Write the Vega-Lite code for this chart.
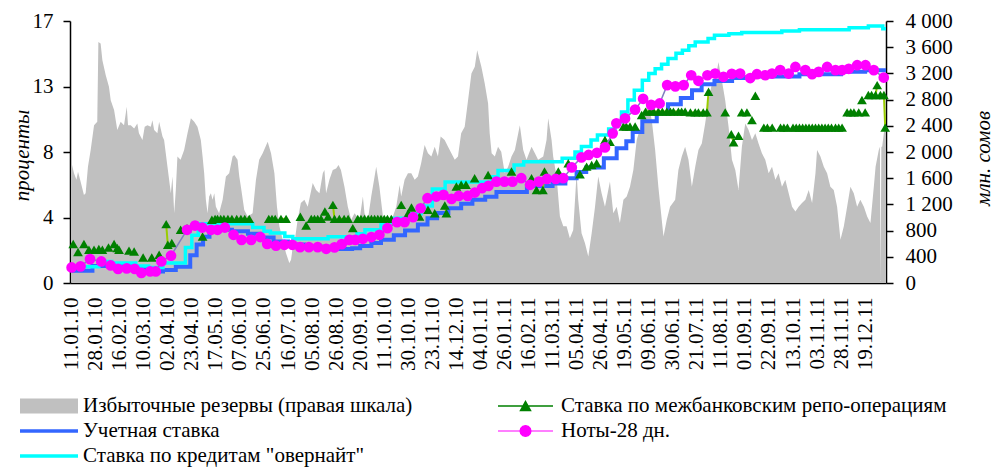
{
  "$schema": "https://vega.github.io/schema/vega-lite/v6.json",
  "width": 816,
  "height": 262,
  "autosize": {"type": "none"},
  "padding": {"left": 70, "top": 21, "right": 109, "bottom": 185},
  "background": "white",
  "config": {
    "view": {"stroke": null},
    "font": "Liberation Serif, Times New Roman, Tinos, DejaVu Serif, serif",
    "axis": {"labelFont": "Liberation Serif, Times New Roman, Tinos, DejaVu Serif, serif", "titleFont": "Liberation Serif, Times New Roman, Tinos, DejaVu Serif, serif", "labelColor": "black", "titleColor": "black", "domainColor": "black", "tickColor": "black", "domainWidth": 1.5, "tickWidth": 1.5, "grid": false},
    "legend": {"labelFont": "Liberation Serif, Times New Roman, Tinos, DejaVu Serif, serif"}
  },
  "datasets": {
    "reserves": [
      {"d":0,"r":1830},{"d":1.5,"r":1675},{"d":3,"r":1575},{"d":4,"r":1700},{"d":5.6,"r":1550},{"d":7.7,"r":1345},{"d":8.75,"r":1370},{"d":10.2,"r":1775},{"d":11.9,"r":2030},{"d":14,"r":2410},{"d":16,"r":2460},{"d":16.7,"r":3680},{"d":18.1,"r":3655},{"d":19.2,"r":3400},{"d":21.3,"r":3170},{"d":23.3,"r":2995},{"d":24.4,"r":2790},{"d":26.5,"r":2640},{"d":28.5,"r":2335},{"d":30.6,"r":2460},{"d":32.7,"r":2410},{"d":34.4,"r":2690},{"d":35.2,"r":2410},{"d":36.9,"r":2410},{"d":39,"r":2360},{"d":41,"r":2435},{"d":42,"r":2285},{"d":44.2,"r":2185},{"d":45.6,"r":2385},{"d":47.3,"r":2410},{"d":49.4,"r":2385},{"d":50.4,"r":2485},{"d":51.5,"r":2335},{"d":53.5,"r":2285},{"d":54.6,"r":2460},{"d":56.7,"r":2235},{"d":57.7,"r":2185},{"d":59.8,"r":1775},{"d":61.9,"r":1370},{"d":62.9,"r":1625},{"d":64,"r":1065},{"d":65,"r":1420},{"d":66,"r":1930},{"d":68,"r":1880},{"d":70.2,"r":2030},{"d":72.3,"r":2285},{"d":74.4,"r":2515},{"d":76.5,"r":2460},{"d":78.5,"r":2385},{"d":80.6,"r":2185},{"d":81.7,"r":1930},{"d":82.7,"r":1675},{"d":83.75,"r":1270},{"d":84.8,"r":1065},{"d":85.8,"r":1320},{"d":86.9,"r":1370},{"d":87.9,"r":1270},{"d":89,"r":1370},{"d":90,"r":1165},{"d":92,"r":1065},{"d":94.2,"r":1270},{"d":96.25,"r":1625},{"d":98.3,"r":1675},{"d":100.4,"r":1930},{"d":101.5,"r":1955},{"d":103.5,"r":1880},{"d":104.6,"r":1625},{"d":105.6,"r":1470},{"d":107.7,"r":1115},{"d":109.8,"r":1015},{"d":112.9,"r":1065},{"d":115,"r":1575},{"d":117,"r":1880},{"d":119.2,"r":1980},{"d":122.3,"r":2155},{"d":124.4,"r":1980},{"d":126.5,"r":1675},{"d":128.1,"r":1165},{"d":129.6,"r":865},{"d":131.7,"r":660},{"d":133.75,"r":455},{"d":135.8,"r":305},{"d":136.9,"r":355},{"d":138,"r":560},{"d":139,"r":610},{"d":141,"r":965},{"d":143,"r":1220},{"d":145.2,"r":1270},{"d":147.3,"r":1165},{"d":150.4,"r":1525},{"d":152.5,"r":1420},{"d":154.6,"r":1370},{"d":156.7,"r":1675},{"d":157.7,"r":1725},{"d":158.75,"r":1370},{"d":160.8,"r":1575},{"d":162.9,"r":1725},{"d":165,"r":1750},{"d":166.5,"r":1800},{"d":168,"r":1725},{"d":170.2,"r":1470},{"d":172.3,"r":1165},{"d":174.4,"r":965},{"d":176.5,"r":1065},{"d":179.6,"r":965},{"d":181.7,"r":1320},{"d":182.7,"r":1065},{"d":184.8,"r":965},{"d":186.9,"r":1320},{"d":189,"r":1625},{"d":190,"r":1775},{"d":192,"r":1470},{"d":194.2,"r":1015},{"d":197.3,"r":965},{"d":200.4,"r":1015},{"d":202.5,"r":1165},{"d":204.6,"r":1495},{"d":205.6,"r":1320},{"d":207.7,"r":1575},{"d":209.8,"r":1675},{"d":211.9,"r":1675},{"d":214,"r":1575},{"d":216,"r":1625},{"d":218,"r":1825},{"d":220.2,"r":2105},{"d":222.3,"r":1980},{"d":224.4,"r":1930},{"d":226.5,"r":2080},{"d":228.5,"r":1930},{"d":230.2,"r":2235},{"d":232.7,"r":2185},{"d":234.8,"r":2080},{"d":236.9,"r":1980},{"d":239,"r":1880},{"d":241,"r":1930},{"d":243,"r":2285},{"d":245.2,"r":2385},{"d":247.3,"r":2790},{"d":249.4,"r":3200},{"d":251.5,"r":3300},{"d":253,"r":3555},{"d":255.6,"r":3300},{"d":257.7,"r":3045},{"d":259.8,"r":2740},{"d":260.8,"r":2285},{"d":262,"r":1980},{"d":264,"r":1930},{"d":266,"r":2080},{"d":268,"r":2005},{"d":270.2,"r":1675},{"d":272.3,"r":1775},{"d":274.4,"r":1930},{"d":276.5,"r":2030},{"d":279.6,"r":2410},{"d":281.7,"r":2030},{"d":283.75,"r":1880},{"d":286.9,"r":2080},{"d":289,"r":1980},{"d":291,"r":1880},{"d":294.2,"r":1930},{"d":296.25,"r":2185},{"d":297.3,"r":2515},{"d":299.4,"r":2185},{"d":300.4,"r":1930},{"d":302.5,"r":1625},{"d":304.6,"r":1015},{"d":306.7,"r":865},{"d":308.75,"r":865},{"d":310.8,"r":685},{"d":312.9,"r":810},{"d":315,"r":1675},{"d":316,"r":1270},{"d":318.1,"r":760},{"d":320.2,"r":610},{"d":322.3,"r":405},{"d":324.4,"r":760},{"d":326.5,"r":1165},{"d":328.5,"r":1625},{"d":330.6,"r":1370},{"d":332.7,"r":1165},{"d":335.8,"r":1550},{"d":337.9,"r":1065},{"d":340,"r":1165},{"d":342,"r":915},{"d":344.2,"r":1270},{"d":346.25,"r":1320},{"d":348.3,"r":1470},{"d":350.4,"r":1725},{"d":352.5,"r":2185},{"d":354.6,"r":2360},{"d":357.7,"r":2640},{"d":359.8,"r":2740},{"d":361.9,"r":2485},{"d":364,"r":2030},{"d":366,"r":1470},{"d":369.2,"r":710},{"d":371.25,"r":965},{"d":373.3,"r":1165},{"d":376.5,"r":1270},{"d":378.5,"r":1725},{"d":380.6,"r":1930},{"d":382.7,"r":2080},{"d":384.8,"r":1880},{"d":386.9,"r":1470},{"d":389,"r":1775},{"d":391,"r":2030},{"d":393.1,"r":2130},{"d":395.2,"r":2435},{"d":397.3,"r":2790},{"d":399.4,"r":3045},{"d":401.5,"r":3095},{"d":403.5,"r":3375},{"d":405.6,"r":3095},{"d":407.7,"r":2790},{"d":409.8,"r":2385},{"d":411.9,"r":1880},{"d":414,"r":1725},{"d":416,"r":1420},{"d":418.1,"r":2080},{"d":420.2,"r":2435},{"d":422.3,"r":2335},{"d":424.4,"r":2185},{"d":426.5,"r":2285},{"d":428.5,"r":2130},{"d":430.6,"r":1980},{"d":432.7,"r":1880},{"d":434.8,"r":1675},{"d":436.9,"r":1775},{"d":439,"r":1575},{"d":441,"r":1675},{"d":443.1,"r":1470},{"d":445.2,"r":1575},{"d":447.3,"r":1370},{"d":449.4,"r":1165},{"d":451.5,"r":1090},{"d":453.5,"r":1165},{"d":455.6,"r":1220},{"d":457.7,"r":1270},{"d":459.8,"r":1420},{"d":461.9,"r":1220},{"d":464,"r":1675},{"d":465,"r":2030},{"d":467.1,"r":1930},{"d":469.2,"r":1775},{"d":471.25,"r":1675},{"d":473.3,"r":1470},{"d":475.4,"r":1420},{"d":477.5,"r":1165},{"d":479.6,"r":660},{"d":481.7,"r":865},{"d":483.75,"r":1165},{"d":485.8,"r":1470},{"d":487.9,"r":1370},{"d":490,"r":1165},{"d":492,"r":1270},{"d":494.2,"r":1165},{"d":496.25,"r":1015},{"d":498.3,"r":915},{"d":500.4,"r":1470},{"d":501.5,"r":1775},{"d":503.5,"r":2030},{"d":504.2,"r":2080},{"d":504.6,"r":30},{"d":505.1,"r":2080},{"d":505.6,"r":2080},{"d":507.7,"r":2485},{"d":508,"r":2550}
    ],
    "discount": [
      {"d":0,"v":0.8},{"d":13,"v":1.1},{"d":40,"v":0.95},{"d":47,"v":0.75},{"d":57,"v":0.85},{"d":65,"v":1.05},{"d":74,"v":1.8},{"d":78,"v":2.5},{"d":82,"v":3.0},{"d":86,"v":3.45},{"d":100,"v":3.35},{"d":110,"v":3.2},{"d":118,"v":2.95},{"d":126,"v":2.7},{"d":135,"v":2.5},{"d":145,"v":2.35},{"d":160,"v":2.2},{"d":175,"v":2.25},{"d":180,"v":2.4},{"d":187,"v":2.6},{"d":193,"v":2.8},{"d":201,"v":3.1},{"d":208,"v":3.4},{"d":216,"v":3.8},{"d":222,"v":4.2},{"d":228,"v":4.55},{"d":235,"v":4.85},{"d":243,"v":5.15},{"d":250,"v":5.4},{"d":258,"v":5.6},{"d":265,"v":5.9},{"d":284,"v":6.3},{"d":300,"v":6.45},{"d":308,"v":6.8},{"d":315,"v":7.2},{"d":321,"v":7.5},{"d":332,"v":8.1},{"d":340,"v":8.74},{"d":346,"v":9.2},{"d":350,"v":9.8},{"d":356,"v":10.5},{"d":365,"v":11.0},{"d":372,"v":11.6},{"d":380,"v":12.0},{"d":387,"v":12.5},{"d":393,"v":12.9},{"d":401,"v":13.1},{"d":412,"v":13.3},{"d":425,"v":13.4},{"d":454,"v":13.55},{"d":480,"v":13.7},{"d":495,"v":13.8},{"d":508,"v":13.75}
    ],
    "overnight": [
      {"d":0,"v":1.05},{"d":17,"v":1.4},{"d":25,"v":1.3},{"d":40,"v":1.1},{"d":48,"v":1.0},{"d":57,"v":1.3},{"d":71,"v":2.3},{"d":75,"v":3.1},{"d":79,"v":3.85},{"d":113,"v":3.6},{"d":120,"v":3.35},{"d":124,"v":3.24},{"d":133,"v":3.02},{"d":138,"v":2.87},{"d":160,"v":3.0},{"d":178,"v":3.2},{"d":183,"v":3.46},{"d":193,"v":3.89},{"d":201,"v":4.2},{"d":210,"v":4.5},{"d":218,"v":5.0},{"d":225,"v":6.1},{"d":233,"v":6.55},{"d":262,"v":6.9},{"d":266,"v":7.3},{"d":276,"v":7.66},{"d":282,"v":7.87},{"d":306,"v":8.1},{"d":314,"v":8.5},{"d":318,"v":8.85},{"d":324,"v":9.28},{"d":328,"v":9.6},{"d":335,"v":10.0},{"d":339,"v":10.46},{"d":343,"v":11.1},{"d":347,"v":11.87},{"d":351,"v":12.5},{"d":356,"v":13.16},{"d":360,"v":13.6},{"d":364,"v":13.9},{"d":368,"v":14.2},{"d":372,"v":14.56},{"d":377,"v":14.9},{"d":381,"v":15.1},{"d":385,"v":15.4},{"d":389,"v":15.64},{"d":397,"v":15.86},{"d":401,"v":16.07},{"d":410,"v":16.18},{"d":418,"v":16.25},{"d":443,"v":16.35},{"d":454,"v":16.44},{"d":485,"v":16.57},{"d":497,"v":16.68},{"d":506,"v":16.5},{"d":508,"v":16.5}
    ],
    "repo": [
      {"d":1,"v":2.53,"g":1},{"d":4,"v":2.01,"g":2},{"d":7.7,"v":2.53,"g":3},{"d":10.8,"v":2.16,"g":4},{"d":14,"v":2.16,"g":5},{"d":17,"v":2.2,"g":6},{"d":19.2,"v":2.16,"g":7},{"d":23,"v":2.3,"g":8},{"d":26.5,"v":2.53,"g":9},{"d":28.5,"v":2.27,"g":10},{"d":29.6,"v":2.16,"g":10},{"d":35.8,"v":2.1,"g":11},{"d":39,"v":2.05,"g":12},{"d":44.6,"v":1.66,"g":13},{"d":50,"v":1.66,"g":14},{"d":54.6,"v":1.83,"g":15},{"d":59,"v":3.82,"g":16},{"d":60,"v":2.48,"g":16},{"d":62.5,"v":2.59,"g":17},{"d":68,"v":3.45,"g":18},{"d":72,"v":3.56,"g":19},{"d":81.7,"v":3.02,"g":20},{"d":87.5,"v":4.1,"g":21},{"d":89.5,"v":4.16,"g":21},{"d":91,"v":4.16,"g":21},{"d":93,"v":4.16,"g":21},{"d":95,"v":4.16,"g":21},{"d":97.5,"v":4.16,"g":22},{"d":100,"v":4.16,"g":22},{"d":103,"v":4.16,"g":23},{"d":105.6,"v":4.16,"g":23},{"d":108,"v":4.16,"g":24},{"d":110.8,"v":4.16,"g":24},{"d":123,"v":4.16,"g":25},{"d":125,"v":4.16,"g":25},{"d":127,"v":4.16,"g":25},{"d":130.6,"v":4.16,"g":26},{"d":133.8,"v":4.16,"g":26},{"d":142.7,"v":4.3,"g":27},{"d":146.3,"v":3.73,"g":28},{"d":149.5,"v":4.16,"g":29},{"d":151.5,"v":4.16,"g":29},{"d":153.5,"v":4.16,"g":29},{"d":155.6,"v":4.16,"g":29},{"d":158,"v":4.64,"g":30},{"d":160,"v":4.31,"g":31},{"d":163,"v":5.07,"g":32},{"d":164,"v":4.16,"g":32},{"d":167,"v":4.16,"g":33},{"d":170,"v":4.16,"g":33},{"d":172.5,"v":4.16,"g":33},{"d":175.4,"v":3.56,"g":34},{"d":178.5,"v":4.16,"g":35},{"d":180.5,"v":4.16,"g":35},{"d":182.7,"v":4.16,"g":35},{"d":185,"v":4.16,"g":35},{"d":187,"v":4.16,"g":35},{"d":189,"v":4.16,"g":35},{"d":191,"v":4.16,"g":35},{"d":193,"v":4.16,"g":35},{"d":195,"v":4.16,"g":35},{"d":197,"v":4.16,"g":35},{"d":199.4,"v":4.16,"g":35},{"d":205.6,"v":5.07,"g":36},{"d":210,"v":4.53,"g":37},{"d":212,"v":4.9,"g":38},{"d":217,"v":4.31,"g":39},{"d":222.3,"v":4.75,"g":40},{"d":226.5,"v":4.53,"g":41},{"d":232.8,"v":5.03,"g":42},{"d":233.8,"v":4.53,"g":42},{"d":240,"v":6.26,"g":43},{"d":243,"v":6.37,"g":44},{"d":246,"v":6.37,"g":45},{"d":251.4,"v":6.8,"g":46},{"d":259.8,"v":7.01,"g":47},{"d":274.4,"v":7.23,"g":48},{"d":286.9,"v":6.8,"g":49},{"d":290,"v":6.04,"g":50},{"d":294,"v":6.04,"g":51},{"d":295,"v":7.23,"g":51},{"d":303.6,"v":7.23,"g":52},{"d":309.8,"v":7.77,"g":53},{"d":317.1,"v":7.06,"g":54},{"d":321.25,"v":7.55,"g":55},{"d":324.4,"v":7.66,"g":56},{"d":327.5,"v":7.77,"g":57},{"d":332.7,"v":9.28,"g":58},{"d":335.8,"v":9.17,"g":59},{"d":344.2,"v":10.15,"g":60},{"d":346,"v":10.15,"g":60},{"d":348.3,"v":10.15,"g":60},{"d":351.5,"v":10.15,"g":61},{"d":355.6,"v":10.9,"g":62},{"d":358,"v":11.12,"g":63},{"d":360.8,"v":11.12,"g":63},{"d":363,"v":11.12,"g":63},{"d":366,"v":11.12,"g":63},{"d":368.5,"v":11.12,"g":63},{"d":371.3,"v":11.12,"g":63},{"d":373.5,"v":11.12,"g":63},{"d":375.4,"v":11.12,"g":63},{"d":378.5,"v":11.12,"g":63},{"d":380.5,"v":11.12,"g":63},{"d":382.7,"v":11.12,"g":63},{"d":386,"v":11.07,"g":64},{"d":389,"v":11.07,"g":64},{"d":391,"v":11.07,"g":64},{"d":394,"v":11.07,"g":64},{"d":396.3,"v":11.07,"g":64},{"d":397.3,"v":12.41,"g":64},{"d":407.7,"v":11.07,"g":66},{"d":411.5,"v":9.65,"g":67},{"d":412.9,"v":9.13,"g":67},{"d":416,"v":9.56,"g":68},{"d":418,"v":11.07,"g":69},{"d":421.25,"v":11.07,"g":70},{"d":424.4,"v":10.57,"g":71},{"d":426.5,"v":12.15,"g":72},{"d":431.8,"v":10.08,"g":73},{"d":434,"v":10.08,"g":73},{"d":437,"v":10.08,"g":73},{"d":442.2,"v":10.08,"g":74},{"d":444.3,"v":10.08,"g":74},{"d":446.5,"v":10.08,"g":74},{"d":450,"v":10.08,"g":75},{"d":452,"v":10.08,"g":75},{"d":454,"v":10.08,"g":75},{"d":456,"v":10.08,"g":75},{"d":458,"v":10.08,"g":75},{"d":460,"v":10.08,"g":75},{"d":462,"v":10.08,"g":75},{"d":464,"v":10.08,"g":75},{"d":466,"v":10.08,"g":75},{"d":468,"v":10.08,"g":75},{"d":470,"v":10.08,"g":75},{"d":472,"v":10.08,"g":75},{"d":474,"v":10.08,"g":75},{"d":476.5,"v":10.08,"g":75},{"d":478.5,"v":10.08,"g":75},{"d":480.6,"v":10.08,"g":75},{"d":483.75,"v":11.07,"g":76},{"d":486,"v":11.07,"g":76},{"d":488,"v":11.07,"g":76},{"d":491,"v":11.07,"g":77},{"d":493,"v":11.87,"g":78},{"d":495,"v":11.07,"g":79},{"d":497,"v":12.2,"g":80},{"d":499,"v":12.2,"g":80},{"d":501.5,"v":12.2,"g":80},{"d":502.5,"v":12.84,"g":80},{"d":504.5,"v":12.2,"g":81},{"d":506.7,"v":12.2,"g":81},{"d":507.5,"v":10.08,"g":81}
    ],
    "notes": [
      {"d":0,"v":1.01},{"d":5.6,"v":1.08},{"d":11.5,"v":1.55},{"d":18.5,"v":1.4},{"d":24.4,"v":1.14},{"d":29,"v":0.91},{"d":34.4,"v":0.95},{"d":39.4,"v":0.91},{"d":43.5,"v":0.65},{"d":49,"v":0.75},{"d":52.5,"v":0.75},{"d":56,"v":1.4},{"d":62,"v":1.77},{"d":72,"v":3.45},{"d":77,"v":3.73},{"d":81.5,"v":3.6},{"d":87,"v":3.45},{"d":91,"v":3.45},{"d":95.6,"v":3.6},{"d":101,"v":3.13},{"d":106,"v":2.8},{"d":112,"v":2.8},{"d":117.7,"v":2.98},{"d":122,"v":2.54},{"d":127.5,"v":2.42},{"d":132.7,"v":2.48},{"d":137.7,"v":2.48},{"d":142.5,"v":2.33},{"d":148,"v":2.33},{"d":153.5,"v":2.33},{"d":158.8,"v":2.22},{"d":164,"v":2.31},{"d":168.5,"v":2.52},{"d":173.3,"v":2.8},{"d":177,"v":2.8},{"d":181.7,"v":2.87},{"d":187,"v":2.98},{"d":192,"v":3.13},{"d":197,"v":3.56},{"d":203,"v":3.95},{"d":207.7,"v":3.95},{"d":213,"v":4.27},{"d":217.7,"v":4.85},{"d":222,"v":5.5},{"d":227.5,"v":5.61},{"d":232,"v":5.72},{"d":237,"v":5.46},{"d":241.5,"v":5.65},{"d":247,"v":5.65},{"d":251.5,"v":5.87},{"d":256,"v":6.15},{"d":260,"v":6.3},{"d":265,"v":6.58},{"d":270,"v":6.58},{"d":275,"v":6.58},{"d":280.5,"v":6.8},{"d":286,"v":6.37},{"d":291.5,"v":6.58},{"d":296.5,"v":6.75},{"d":302,"v":6.75},{"d":306.7,"v":6.8},{"d":312,"v":7.5},{"d":318,"v":8.15},{"d":322.5,"v":8.31},{"d":327.7,"v":8.45},{"d":332.7,"v":8.8},{"d":337.5,"v":9.71},{"d":339.8,"v":10.36},{"d":345.2,"v":10.68},{"d":351.5,"v":11.25},{"d":356.5,"v":11.95},{"d":361.5,"v":11.56},{"d":366.8,"v":11.65},{"d":371.5,"v":12.84},{"d":376.6,"v":12.76},{"d":381.8,"v":12.84},{"d":386.5,"v":13.48},{"d":391,"v":13.12},{"d":396.6,"v":13.48},{"d":401.4,"v":13.59},{"d":406.6,"v":13.38},{"d":411.8,"v":13.57},{"d":417,"v":13.59},{"d":423.3,"v":13.3},{"d":427.5,"v":13.55},{"d":432.7,"v":13.48},{"d":436.9,"v":13.59},{"d":442,"v":13.81},{"d":447.3,"v":13.59},{"d":451.5,"v":14.02},{"d":457.7,"v":13.81},{"d":461.9,"v":13.55},{"d":466,"v":13.7},{"d":471.3,"v":14.02},{"d":476.5,"v":13.81},{"d":480.6,"v":13.81},{"d":484.8,"v":13.9},{"d":490,"v":14.13},{"d":495.2,"v":14.13},{"d":500.4,"v":13.81},{"d":506.6,"v":13.33}
    ]
  },
  "encoding": {
    "x": {
      "field": "d",
      "type": "quantitative",
      "scale": {"domain": [-1, 508], "nice": false, "zero": false},
      "axis": {
        "title": null,
        "values": [0,15,30,45,60,75,90,105,120,135,150,165,180,195,210,225,240,255,270,285,300,315,330,345,360,375,390,405,420,435,450,465,480,495],
        "labelExpr": "['11.01.10','28.01.10','16.02.10','10.03.10','02.04.10','23.04.10','17.05.10','07.06.10','25.06.10','16.07.10','05.08.10','26.08.10','20.09.10','11.10.10','30.10.10','23.11.10','14.12.10','04.01.11','26.01.11','16.02.11','11.03.11','05.04.11','26.04.11','19.05.11','09.06.11','30.06.11','21.07.11','11.08.11','01.09.11','22.09.11','13.10.11','03.11.11','28.11.11','19.12.11'][round(datum.value/15)]",
        "labelAngle": 270,
        "labelAlign": "right",
        "labelBaseline": "middle",
        "labelFontSize": 21,
        "labelPadding": 14,
        "ticks": false,
        "tickSize": 0,
        "labelOverlap": false,
        "labelFlush": false,
        "labelBound": false
      }
    }
  },
  "layer": [
    {
      "data": {"name": "reserves"},
      "mark": {"type": "area", "clip": true},
      "encoding": {
        "y": {
          "field": "r",
          "type": "quantitative",
          "scale": {"domain": [0, 4000], "nice": false},
          "axis": {
            "orient": "right",
            "values": [0,400,800,1200,1600,2000,2400,2800,3200,3600,4000],
            "labelExpr": "replace(format(datum.value, ','), ',', ' ')",
            "labelFontSize": 21,
            "labelPadding": 12,
            "tickSize": 7,
            "title": "млн. сомов",
            "titleFontSize": 21,
            "titleFontStyle": "italic",
            "titleFontWeight": "normal",
            "titleAngle": -90,
            "titleX": 97,
            "titleY": 137,
            "titleAlign": "center",
            "titleBaseline": "middle"
          }
        },
        "color": {
          "datum": "Избыточные резервы (правая шкала)",
          "scale": {
            "domain": ["Избыточные резервы (правая шкала)", "Учетная ставка", "Ставка по кредитам \"овернайт\"", "Ставка по межбанковским репо-операциям", "Ноты-28 дн."],
            "range": ["#c0c0c0", "#3366ff", "#00ffff", "#008000", "#ff00ff"]
          },
          "legend": {
            "title": null,
            "orient": "none",
            "legendX": -50,
            "legendY": 385,
            "columns": 2,
            "padding": 0,
            "symbolSize": 400,
            "labelFontSize": 21,
            "labelColor": "black",
            "labelLimit": 600,
            "labelOffset": 44,
            "rowPadding": 4,
            "columnPadding": 82,
            "encoding": {
              "symbols": {
                "x": {"value": 10},
                "shape": {"value": {"expr": "['M-1,-0.75H4.8V0.75H-1Z','M-1,0H4.8','M-1,0H4.8','M-1,0H4.5M1.25,0.45L1.75,-0.45L2.25,0.45Z','M-1,0H4.5M2.3,0L2.226,0.275L2.025,0.476L1.75,0.55L1.475,0.476L1.274,0.275L1.2,0L1.274,-0.275L1.475,-0.476L1.75,-0.55L2.025,-0.476L2.226,-0.275Z'][datum.index]"}},
                "fill": {"value": {"expr": "['#c0c0c0','transparent','transparent','#008000','#ff00ff'][datum.index]"}},
                "stroke": {"value": {"expr": "['transparent','#3366ff','#00ffff','#99cc00','#8080c0'][datum.index]"}},
                "strokeWidth": {"value": {"expr": "[0,3.5,3.5,1.5,1.2][datum.index]"}},
                "opacity": {"value": 1},
                "fillOpacity": {"value": 1},
                "strokeOpacity": {"value": 1}
              },
              "labels": {
                "x": {"value": 63}
              }
            }
          }
        }
      }
    },
    {
      "encoding": {
        "y": {
          "field": "v",
          "type": "quantitative",
          "scale": {"domain": [0, 17], "nice": false},
          "axis": {
            "orient": "left",
            "values": [0, 4.25, 8.5, 12.75, 17],
            "labelExpr": "datum.value == 8.5 ? '8' : format(datum.value, '.0f')",
            "labelFontSize": 21,
            "labelPadding": 10,
            "tickSize": 7,
            "title": "проценты",
            "titleFontSize": 21,
            "titleFontStyle": "italic",
            "titleFontWeight": "normal",
            "titleAngle": -90,
            "titleX": -48,
            "titleY": 134,
            "titleAlign": "center",
            "titleBaseline": "middle"
          }
        }
      },
      "layer": [
        {
          "data": {"name": "discount"},
          "mark": {"type": "line", "interpolate": "step-after", "strokeWidth": 4, "clip": true},
          "encoding": {"color": {"datum": "Учетная ставка"}}
        },
        {
          "data": {"name": "overnight"},
          "mark": {"type": "line", "interpolate": "step-after", "strokeWidth": 3.5, "clip": true},
          "encoding": {"color": {"datum": "Ставка по кредитам \"овернайт\""}}
        },
        {
          "data": {"name": "repo"},
          "mark": {"type": "line", "strokeWidth": 2, "color": "#99cc00", "clip": true},
          "encoding": {"detail": {"field": "g", "type": "nominal"}}
        },
        {
          "data": {"name": "repo"},
          "mark": {"type": "point", "shape": "triangle-up", "filled": true, "size": 95, "opacity": 1, "strokeWidth": 0},
          "encoding": {"color": {"datum": "Ставка по межбанковским репо-операциям"}}
        },
        {
          "data": {"name": "notes"},
          "mark": {"type": "line", "strokeWidth": 1.5, "color": "#8080c0", "clip": true},
          "encoding": {}
        },
        {
          "data": {"name": "notes"},
          "mark": {"type": "point", "shape": "circle", "filled": true, "size": 115, "opacity": 1, "strokeWidth": 0},
          "encoding": {"color": {"datum": "Ноты-28 дн."}}
        }
      ]
    }
  ],
  "resolve": {"scale": {"y": "independent"}}
}
